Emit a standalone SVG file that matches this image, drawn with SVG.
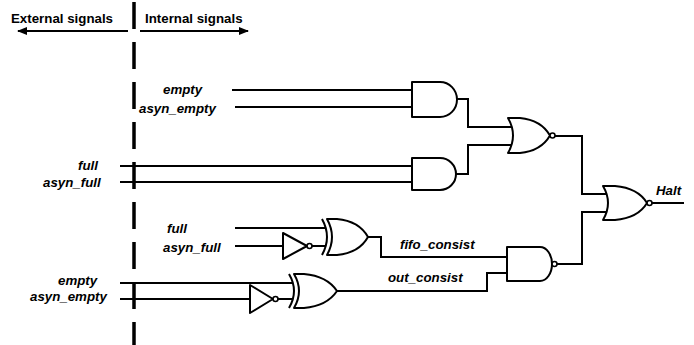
<svg xmlns="http://www.w3.org/2000/svg" width="694" height="345" viewBox="0 0 694 345">
<defs>
<style>
.t{font-family:"Liberation Sans",Arial,sans-serif;font-weight:bold;font-size:13.3px;fill:#000}
.i{font-style:italic}
.w{fill:none;stroke:#000;stroke-width:2}
.g{fill:#fff;stroke:#000;stroke-width:2;stroke-linejoin:round}
.b{fill:#fff;stroke:#000;stroke-width:1.6}
</style>
<marker id="ah" viewBox="0 0 10 8" refX="9" refY="4" markerWidth="10" markerHeight="8" markerUnits="userSpaceOnUse" orient="auto">
<path d="M0,0 L10,4 L0,8 Z" fill="#000"/>
</marker>
</defs>
<rect width="694" height="345" fill="#fff"/>
<g id="boundary">
<line x1="134" y1="2" x2="134" y2="345" stroke="#000" stroke-width="3.5" stroke-dasharray="27 13"/>
<line x1="128" y1="31" x2="18" y2="31" stroke="#000" stroke-width="2" marker-end="url(#ah)"/>
<line x1="140" y1="31" x2="248" y2="31" stroke="#000" stroke-width="2" marker-end="url(#ah)"/>
<text class="t" x="11" y="23">External signals</text>
<text class="t" x="145" y="23">Internal signals</text>
</g>
<g id="connectors">
<path class="w" d="M232,90 H413"/>
<path class="w" d="M235,107 H413"/>
<path class="w" d="M120,166 H413"/>
<path class="w" d="M120,182 H413"/>
<path class="w" d="M457,99 H468 V127 H512"/>
<path class="w" d="M456,174 H468 V145 H512"/>
<path class="w" d="M555,136 H582 V194 H607"/>
<path class="w" d="M557,264 H582 V212 H607"/>
<path class="w" d="M652,203 H684"/>
<path class="w" d="M235,228 H326"/>
<path class="w" d="M235,246 H283"/>
<path class="w" d="M312,246 H326"/>
<path class="w" d="M120,283 H293"/>
<path class="w" d="M120,299 H250"/>
<path class="w" d="M278,299 H293"/>
<path class="w" d="M367,237 H381 V257 H508"/>
<path class="w" d="M336,291 H487 V273 H508"/>
</g>
<g id="and1"><path class="g" d="M412,82 H440 A17,17.5 0 0 1 440,117 H412 Z"/></g>
<g id="and2"><path class="g" d="M412,158 H440 A16,16 0 0 1 440,190 H412 Z"/></g>
<g id="nor1">
<path class="g" d="M508,118 Q518,135.5 508,153 L520,153 Q541,151 550,135.5 Q541,120 520,118 Z"/>
<circle class="b" cx="552.5" cy="135.5" r="2.5"/>
</g>
<g id="inv1">
<path class="g" d="M283,233 L307,246 L283,259 Z"/>
<circle class="b" cx="309.5" cy="246" r="2.5"/>
</g>
<g id="xor1">
<path class="w" d="M322,219 Q332,237 322,255"/>
<path class="g" d="M327,219 Q337,237 327,255 L337,255 Q359,253 368,237 Q359,221 337,219 Z"/>
</g>
<g id="inv2">
<path class="g" d="M250,285 L273,299 L250,313 Z"/>
<circle class="b" cx="275.5" cy="299" r="2.5"/>
</g>
<g id="xor2">
<path class="w" d="M289,274 Q299,291 289,308"/>
<path class="g" d="M294,274 Q304,291 294,308 L304,308 Q327,306 337,291 Q327,276 304,274 Z"/>
</g>
<g id="nand">
<path class="g" d="M507,247 H540 A12,17 0 0 1 540,281 H507 Z"/>
<circle class="b" cx="554.5" cy="264" r="2.5"/>
</g>
<g id="nor2">
<path class="g" d="M603,186 Q613,203 603,220 L615,220 Q638,218 647,203 Q638,188 615,186 Z"/>
<circle class="b" cx="649.5" cy="203" r="2.5"/>
</g>
<g id="labels">
<text class="t i" x="163" y="94">empty</text>
<text class="t i" x="139" y="113">asyn_empty</text>
<text class="t i" x="78" y="170">full</text>
<text class="t i" x="43" y="187">asyn_full</text>
<text class="t i" x="167" y="233">full</text>
<text class="t i" x="163" y="252">asyn_full</text>
<text class="t i" x="58" y="285">empty</text>
<text class="t i" x="30" y="301">asyn_empty</text>
<text class="t i" x="400" y="249">fifo_consist</text>
<text class="t i" x="388" y="282">out_consist</text>
<text class="t i" x="656" y="195">Halt</text>
</g>
</svg>
